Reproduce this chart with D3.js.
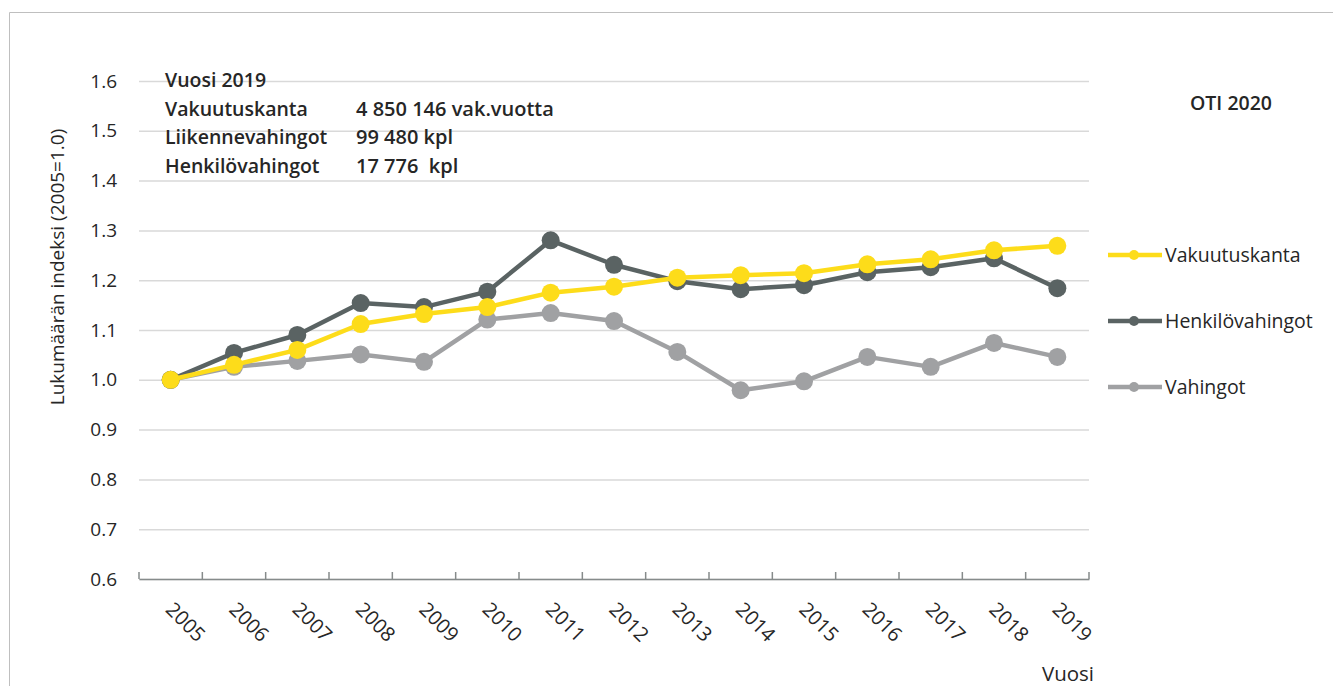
<!DOCTYPE html>
<html>
<head>
<meta charset="utf-8">
<script src="https://cdn.jsdelivr.net/npm/d3@7"></script>
<style>
  body { margin: 0; background: #fff; overflow: hidden; }
  svg { display: block; }
  text { font-family: "Open Sans", "Noto Sans", sans-serif; fill: #262626; white-space: pre; }
</style>
</head>
<body>
<div id="chart"></div>
<script>
var width = 1333
var height = 686

const years = ["2005","2006","2007","2008","2009","2010","2011","2012","2013","2014","2015","2016","2017","2018","2019"]
const vakuutuskanta = [1.0, 1.03, 1.06, 1.112, 1.132, 1.146, 1.175, 1.187, 1.205, 1.21, 1.214, 1.232, 1.242, 1.26, 1.269]
const henkilovahingot = [1.0, 1.054, 1.09, 1.154, 1.146, 1.177, 1.28, 1.231, 1.198, 1.182, 1.19, 1.216, 1.226, 1.244, 1.184]
const vahingot = [1.0, 1.026, 1.038, 1.051, 1.036, 1.121, 1.134, 1.118, 1.056, 0.979, 0.997, 1.046, 1.026, 1.074, 1.046]
const yTicks = [0.6, 0.7, 0.8, 0.9, 1.0, 1.1, 1.2, 1.3, 1.4, 1.5, 1.6]
const infoRows = [
  ["Vuosi 2019", ""],
  ["Vakuutuskanta", "4 850 146 vak.vuotta"],
  ["Liikennevahingot", "99 480 kpl"],
  ["Henkilövahingot", "17 776  kpl"]
]

const series = [
  {name: "Vakuutuskanta", values: vakuutuskanta, color: "#FDDC1A"},
  {name: "Henkilövahingot", values: henkilovahingot, color: "#5A6363"},
  {name: "Vahingot", values: vahingot, color: "#A0A1A3"}
]

const svg = d3.select("#chart").append("svg")
  .attr("width", width)
  .attr("height", height)

// outer frame (only top and left edges visible)
svg.append("path")
  .attr("d", `M9.5,${height} V12.5 H${width}`)
  .attr("fill", "none")
  .attr("stroke", "#BFBFBF")

const margin = {top: 81, right: 244, bottom: 107, left: 139}
const innerWidth = width - margin.left - margin.right
const innerHeight = height - margin.top - margin.bottom

const g = svg.append("g")
  .attr("transform", `translate(${margin.left}, ${margin.top})`)

const xScale = d3.scaleBand()
  .domain(years)
  .range([0, innerWidth])

const yScale = d3.scaleLinear()
  .domain([0.6, 1.6])
  .range([innerHeight, 0])

// gridlines
const yAxis = d3.axisLeft(yScale)
  .tickValues(yTicks)
  .tickSize(-innerWidth)
  .tickPadding(22)
  .tickFormat(d3.format(".1f"))

const yAxisG = g.append("g").call(yAxis)
yAxisG.select(".domain").remove()
yAxisG.selectAll("line").attr("stroke", "#D9D9D9").attr("stroke-width", 1.5)
yAxisG.selectAll("text").attr("font-size", 19).attr("fill", "#404040")

// x axis
const xAxis = d3.axisBottom(xScale)
  .tickSize(0)

const xAxisG = g.append("g")
  .attr("transform", `translate(0, ${innerHeight})`)
  .call(xAxis)
xAxisG.select(".domain").attr("stroke", "#868B8B").attr("stroke-width", 1.5)
xAxisG.selectAll(".tick").remove()

// tick marks at band boundaries
const bounds = years.map(d => xScale(d)).concat([innerWidth])
xAxisG.selectAll(".bound")
  .data(bounds)
  .enter().append("line")
  .attr("x1", d => d).attr("x2", d => d)
  .attr("y1", 0).attr("y2", -7)
  .attr("stroke", "#868B8B")
  .attr("stroke-width", 1.5)

xAxisG.selectAll(".xlab")
  .data(years)
  .enter().append("text")
  .attr("transform", d => `translate(${xScale(d) + xScale.bandwidth() / 2 + 15}, 43) rotate(45)`)
  .attr("text-anchor", "middle")
  .attr("dy", "0.35em")
  .attr("font-size", 20)
  .text(d => d)

// axis titles
svg.append("text")
  .attr("transform", "translate(64, 267) rotate(-90)")
  .attr("text-anchor", "middle")
  .attr("font-size", 19)
  .attr("fill", "#404040")
  .text("Lukumäärän indeksi (2005=1.0)")

svg.append("text")
  .attr("x", 1094)
  .attr("y", 681)
  .attr("text-anchor", "end")
  .attr("font-size", 20.5)
  .attr("fill", "#404040")
  .text("Vuosi")

// lines
const lineGen = d3.line()
  .x((d, i) => xScale(years[i]) + xScale.bandwidth() / 2)
  .y(d => yScale(d))

series.slice().reverse().forEach(s => {
  g.append("path")
    .attr("d", lineGen(s.values))
    .attr("fill", "none")
    .attr("stroke", s.color)
    .attr("stroke-width", 4.5)
    .attr("stroke-linejoin", "round")

  g.selectAll(null)
    .data(s.values)
    .enter().append("circle")
    .attr("cx", (d, i) => xScale(years[i]) + xScale.bandwidth() / 2)
    .attr("cy", d => yScale(d))
    .attr("r", 9)
    .attr("fill", s.color)
})

// info box text
const info = svg.append("g").attr("transform", "translate(165, 87)")
infoRows.forEach((row, i) => {
  info.append("text")
    .attr("x", 0).attr("y", i * 28.7)
    .attr("font-size", 19.5)
    .attr("font-weight", 600)
    .text(row[0])
  info.append("text")
    .attr("x", 191).attr("y", i * 28.7)
    .attr("font-size", 20)
    .attr("font-weight", 600)
    .text(row[1])
})

svg.append("text")
  .attr("x", 1190)
  .attr("y", 110)
  .attr("font-size", 19.5)
  .attr("font-weight", 600)
  .text("OTI 2020")

// legend
const legend = svg.append("g").attr("transform", "translate(1108, 255)")
series.forEach((s, i) => {
  const lg = legend.append("g").attr("transform", `translate(0, ${i * 66})`)
  lg.append("line")
    .attr("x1", 0).attr("x2", 54)
    .attr("stroke", s.color)
    .attr("stroke-width", 4.5)
  lg.append("circle")
    .attr("cx", 26).attr("r", 5)
    .attr("fill", s.color)
  lg.append("text")
    .attr("x", 57)
    .attr("dy", "0.35em")
    .attr("font-size", 19.5)
    .text(s.name)
})
</script>
</body>
</html>
